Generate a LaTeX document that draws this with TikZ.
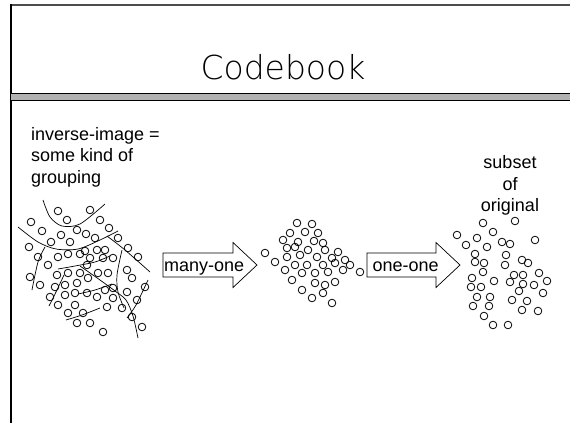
\documentclass[tikz,border=0pt]{standalone}
\usepackage{fontspec}
\setmainfont{Liberation Sans}
\IfFontExistsTF{DejaVu Sans ExtraLight}
  {\newfontfamily\titlefont{DejaVu Sans ExtraLight}}
  {\newfontfamily\titlefont{DejaVu Sans}}

\begin{document}
\begin{tikzpicture}[x=1pt,y=-1pt,
  ring/.style={line width=0.8pt},
  cut/.style={line width=0.7pt},
  fatarrow/.style={line width=0.7pt},
  txt/.style={font=\fontsize{18}{21.5}\selectfont, inner sep=0pt}]
  \useasboundingbox (0,0) rectangle (570,423);

  % slide frame and title rule
  \draw[line width=2pt, black!70] (10,5) -- (570,5);
  \draw[line width=2pt] (11,4) -- (11,423);
  \fill[black!30] (11,93) rectangle (570,100);
  \draw[line width=0.8pt] (11,93) -- (570,93);
  \draw[line width=0.8pt] (11,100) -- (570,100);

  \node[font=\titlefont\fontsize{33}{38}\selectfont] (title) at (283,67) {Codebook};

  \node[txt, anchor=base west] (inv1) at (31,140) {inverse-image =};
  \node[txt, anchor=base west] (inv2) at (31,161.5) {some kind of};
  \node[txt, anchor=base west] (inv3) at (31,183) {grouping};

  \node[txt, anchor=base] (sub1) at (510,168.5) {subset};
  \node[txt, anchor=base] (sub2) at (510,190) {of};
  \node[txt, anchor=base] (sub3) at (510,211.5) {original};

  % original points
  \foreach \x/\y in {58/211, 90/210, 67/220, 100/220, 31/222, 109/228, 42/231, 77/230,
      86/234, 61/235, 95/238, 118/238, 51/242, 70/242, 29/247, 85/251, 97/250, 105/250,
      128/248, 38/257, 58/257, 68/254, 80/254, 90/258, 103/258, 113/258, 138/257,
      48/265, 30/277, 40/285, 57/275, 68/273, 80/273, 88/278, 55/287, 65/285, 77/283,
      87/293, 50/297, 65/295, 75/293, 58/305, 75/305, 68/313, 83/313, 77/323, 90/323,
      87/265, 127/270, 132/278, 145/287, 98/273, 108/273, 105/290, 113/288, 97/297,
      113/298, 127/292, 137/300, 107/307, 122/308, 132/317, 142/327, 103/332}
    \draw[ring] (\x,\y) circle[radius=3.8pt];

  % cell boundaries
  \draw[cut] plot[smooth] coordinates {(43,200) (50,217) (62,226) (80,224) (105,204)};
  \draw[cut] plot[smooth] coordinates {(18,227) (38,242) (56,249) (78,249) (100,240) (118,231)};
  \draw[cut] plot[smooth] coordinates {(107,236) (125,250) (150,272)};
  \draw[cut] plot[smooth] coordinates {(45,247) (38,262) (32,290)};
  \draw[cut] plot[smooth] coordinates {(58,269) (75,266) (95,262) (110,256)};
  \draw[cut] plot[smooth] coordinates {(64,275) (56,292) (49,306)};
  \draw[cut] plot[smooth] coordinates {(80,266) (100,280) (115,291) (126,300) (133,316) (138,338)};
  \draw[cut] plot[smooth] coordinates {(78,294) (95,290) (112,284)};
  \draw[cut] plot[smooth] coordinates {(66,320) (82,315) (100,308)};
  \draw[cut] plot[smooth] coordinates {(122,250) (117,275) (118,292) (124,308)};
  \draw[cut] plot[smooth] coordinates {(148,280) (136,305) (127,318)};

  % many-one
  \draw[fatarrow] (163,253) -- (233,253) -- (233,242.5) -- (257,265)
    -- (233,287.5) -- (233,277) -- (163,277) -- cycle;
  \node[txt, anchor=base west] (manyone) at (164,271.5) {many-one};

  % codewords
  \foreach \x/\y in {297/223, 312/224, 290/233, 305/232, 318/233, 283/240, 298/242,
      314/241, 323/243, 265/253, 287/248, 295/247, 308/250, 325/250, 338/252, 275/262,
      287/257, 300/255, 317/257, 332/258, 345/260, 285/270, 295/265, 307/265, 323/265,
      335/263, 350/265, 360/272, 292/280, 302/273, 315/273, 328/272, 343/270, 302/290,
      315/283, 325/285, 335/282, 312/298, 323/293, 332/303}
    \draw[ring] (\x,\y) circle[radius=3.8pt];

  % one-one
  \draw[fatarrow] (367,253) -- (436,253) -- (436,242.5) -- (460,265)
    -- (436,287.5) -- (436,277) -- (367,277) -- cycle;
  \node[txt, anchor=base west] (oneone) at (372.5,271.5) {one-one};

  % subset of original
  \foreach \x/\y in {483/223, 515/221, 457/235, 477/238, 493/232, 535/240, 466/245,
      487/247, 502/242, 510/244, 475/254, 506/255, 522/260, 528/263, 475/262, 484/263,
      505/265, 483/272, 514/275, 523/275, 539/273, 472/278, 494/281, 510/282, 523/284,
      534/285, 547/281, 471/287, 481/287, 519/291, 543/293, 477/297, 490/297, 473/306,
      489/306, 512/300, 527/301, 484/316, 522/310, 538/311, 493/325, 508/325}
    \draw[ring] (\x,\y) circle[radius=3.8pt];
\end{tikzpicture}
\end{document}
